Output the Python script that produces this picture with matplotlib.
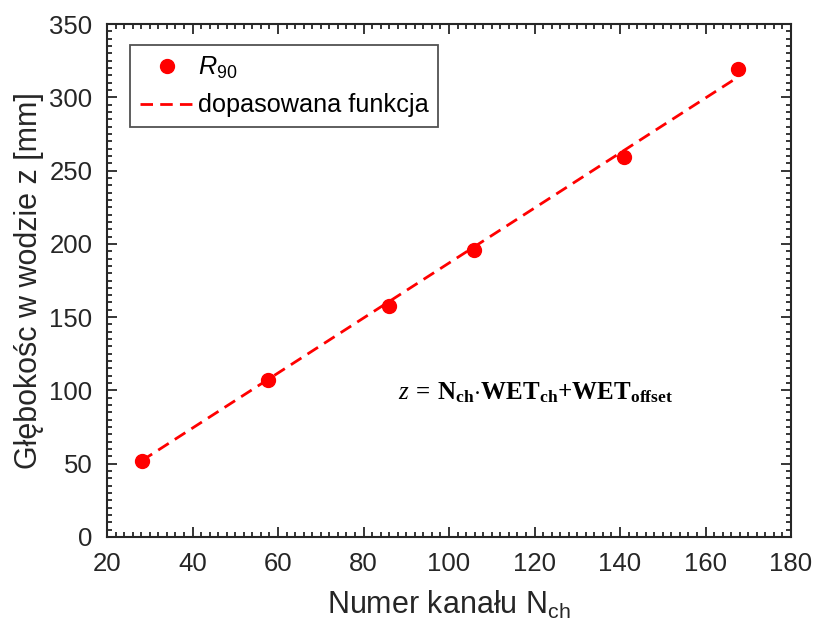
import matplotlib
matplotlib.use("Agg")
import matplotlib.pyplot as plt
from matplotlib.ticker import MultipleLocator

plt.rcParams['font.family'] = ['Liberation Sans', 'DejaVu Sans']
plt.rcParams['mathtext.fontset'] = 'custom'
plt.rcParams['mathtext.rm'] = 'Liberation Sans'
plt.rcParams['mathtext.it'] = 'Liberation Sans:italic'
plt.rcParams['mathtext.bf'] = 'Liberation Serif:bold'
plt.rcParams['mathtext.cal'] = 'Liberation Serif:italic'

# data
channel = [28.1, 57.7, 86.0, 105.8, 140.9, 167.5]
depth = [51.9, 107.1, 157.6, 195.8, 259.3, 319.1]
fit_x = [28.1, 167.5]
fit_y = [52.0, 313.6]

x_ticks = [20, 40, 60, 80, 100, 120, 140, 160, 180]
y_ticks = [0, 50, 100, 150, 200, 250, 300, 350]

dark = '#262626'
fig = plt.figure(figsize=(8.16, 6.29), dpi=100)
ax = fig.add_axes([107/816, 1-537/629, 684/816, 513/629])

ax.plot(channel, depth, 'o', color='red', markersize=10, label=r'$R_{\mathit{90}}$', zorder=3)
ax.plot(fit_x, fit_y, '--', color='red', lw=2.0, dashes=(4.5, 2.6), label='dopasowana funkcja', zorder=2)

ax.set_xlim(20, 180)
ax.set_ylim(0, 350)
ax.set_xticks(x_ticks)
ax.set_yticks(y_ticks)
ax.xaxis.set_minor_locator(MultipleLocator(2))
ax.yaxis.set_minor_locator(MultipleLocator(5))
ax.tick_params(which='both', direction='in', top=True, right=True, colors=dark,
               labelsize=18.5, width=1.3)
ax.tick_params(which='major', length=7)
ax.tick_params(which='minor', length=3.5)
ax.tick_params(axis='x', which='major', pad=11)
ax.tick_params(axis='y', which='major', pad=10.5)
for s in ax.spines.values():
    s.set_color(dark)
    s.set_linewidth(1.5)

ax.set_xlabel(r'Numer kanału $\mathrm{N_{ch}}$', fontsize=22, color=dark, labelpad=9)
ax.set_ylabel('Głębokośc w wodzie z [mm]', fontsize=22, color=dark, labelpad=4)

leg = ax.legend(loc='upper left', bbox_to_anchor=(23/684, 1-21/513), fontsize=18.2,
                frameon=True, fancybox=False, edgecolor=dark, handlelength=2.2,
                handletextpad=0.1, borderpad=0.38, labelspacing=0.5, borderaxespad=0)
leg.get_frame().set_linewidth(1.3)
for t in leg.get_texts():
    t.set_color('black')

ax.text(0.425, 0.281, r'$\mathcal{z}\,\mathbf{{=}}\,\mathbf{N_{ch}}$' + r'$\mathbf{\cdot WET_{ch}{+}WET_{offset}}$',
        transform=ax.transAxes, fontsize=18, color='black', ha='left', va='center')

fig.savefig('out.png', dpi=100)
